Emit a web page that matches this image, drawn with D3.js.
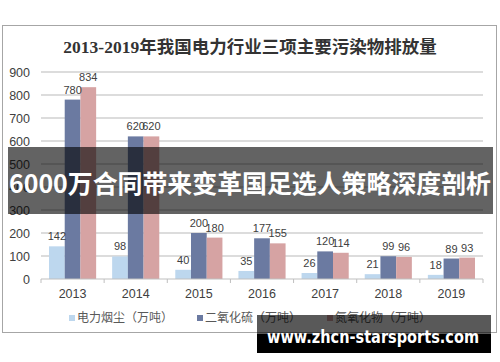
<!DOCTYPE html>
<html>
<head>
<meta charset="utf-8">
<script src="https://cdn.jsdelivr.net/npm/d3@7"></script>
<style>
  body { margin: 0; background: #fff; }
  svg { display: block; }
</style>
</head>
<body>
<div id="chart"></div>
<script>
var years = ["2013", "2014", "2015", "2016", "2017", "2018", "2019"];
var seriesNames = ["电力烟尘（万吨）", "二氧化硫（万吨）", "氮氧化物（万吨）"];
var dust = [142, 98, 40, 35, 26, 21, 18];
var so2 = [780, 620, 200, 177, 120, 99, 89];
var nox = [834, 620, 180, 155, 114, 96, 93];
var yTicks = [0, 100, 200, 300, 400, 500, 600, 700, 800, 900];
var colors = ["#bdd7ee", "#6b7aa1", "#d6a3a3"];

var title = "2013-2019年我国电力行业三项主要污染物排放量";
var banner = "6000万合同带来变革国足选人策略深度剖析";
var watermark = "www.zhcn-starsports.com";

var width = 500, height = 362;
var svg = d3.select("#chart")
  .append("svg")
  .attr("width", width)
  .attr("height", height);

// chart frame
svg.append("rect")
  .attr("x", 2.5).attr("y", 25.5)
  .attr("width", 494).attr("height", 307)
  .attr("fill", "#fff")
  .attr("stroke", "#a6a6a6");

svg.append("text")
  .attr("x", 250).attr("y", 53)
  .attr("text-anchor", "middle")
  .style("font-family", "'Liberation Serif', 'Noto Sans CJK SC', serif")
  .style("font-weight", "bold")
  .style("font-size", "17.5px")
  .attr("fill", "#333")
  .text(title);

// scales
var x = d3.scaleBand().domain(years).range([41, 483]);
var x1 = d3.scaleBand().domain([0, 1, 2]).range([8, x.bandwidth() - 8]);
var y = d3.scaleLinear().domain([0, 900]).range([279, 72]);

// gridlines + y labels
svg.append("g")
  .selectAll("line")
  .data(yTicks.slice(1))
  .enter()
  .append("line")
  .attr("x1", 41).attr("x2", 483)
  .attr("y1", function (d) { return y(d); })
  .attr("y2", function (d) { return y(d); })
  .attr("stroke", "#d0d0d0")
  .attr("stroke-width", 1.3);

svg.append("g")
  .selectAll("text")
  .data(yTicks)
  .enter()
  .append("text")
  .attr("x", 30)
  .attr("y", function (d) { return y(d) + 4.5; })
  .attr("text-anchor", "end")
  .style("font-family", "'Liberation Sans', Arial, sans-serif")
  .style("font-size", "12.5px")
  .attr("fill", "#404040")
  .text(function (d) { return d; });

// bars
var series = [dust, so2, nox];
var rows = [];
years.forEach(function (yr, i) {
  series.forEach(function (s, k) {
    rows.push({ year: yr, k: k, v: s[i] });
  });
});

svg.append("g")
  .selectAll("rect")
  .data(rows)
  .enter()
  .append("rect")
  .attr("x", function (d) { return x(d.year) + x1(d.k); })
  .attr("y", function (d) { return y(d.v); })
  .attr("width", x1.bandwidth())
  .attr("height", function (d) { return y(0) - y(d.v); })
  .attr("fill", function (d) { return colors[d.k]; });

// value labels
svg.append("g")
  .selectAll("text")
  .data(rows)
  .enter()
  .append("text")
  .attr("x", function (d) { return x(d.year) + x1(d.k) + x1.bandwidth() / 2; })
  .attr("y", function (d) { return y(d.v) - 6; })
  .attr("text-anchor", "middle")
  .style("font-family", "'Liberation Sans', Arial, sans-serif")
  .style("font-size", "11px")
  .attr("fill", "#404040")
  .text(function (d) { return d.v; });

// x axis
var xAxis = svg.append("g")
  .attr("transform", "translate(0," + y(0) + ")");
xAxis.append("line")
  .attr("x1", 41).attr("x2", 483)
  .attr("stroke", "#bfbfbf").attr("stroke-width", 1.2);
xAxis.selectAll("line.tk")
  .data(years.concat(["end"]))
  .enter()
  .append("line")
  .attr("class", "tk")
  .attr("x1", function (d) { return d == "end" ? 483 : x(d); })
  .attr("x2", function (d) { return d == "end" ? 483 : x(d); })
  .attr("y1", 0).attr("y2", 4)
  .attr("stroke", "#bfbfbf");
xAxis.selectAll("text")
  .data(years)
  .enter()
  .append("text")
  .attr("x", function (d) { return x(d) + x.bandwidth() / 2; })
  .attr("y", 18.5)
  .attr("text-anchor", "middle")
  .style("font-family", "'Liberation Sans', Arial, sans-serif")
  .style("font-size", "12.5px")
  .attr("fill", "#404040")
  .text(function (d) { return d; });

// legend
var legendX = [69, 197, 327];
var legend = svg.append("g")
  .selectAll("g")
  .data(seriesNames)
  .enter()
  .append("g")
  .attr("transform", function (d, i) { return "translate(" + legendX[i] + ",315)"; });
legend.append("rect")
  .attr("width", 6).attr("height", 6)
  .attr("fill", function (d, i) { return colors[i]; });
legend.append("text")
  .attr("x", 8).attr("y", 7)
  .style("font-family", "'Noto Sans CJK SC', sans-serif")
  .style("font-size", "12px")
  .attr("fill", "#595959")
  .text(function (d) { return d; });

// overlay banner
svg.append("rect")
  .attr("x", 8).attr("y", 147)
  .attr("width", 485).attr("height", 67)
  .attr("fill", "#000").attr("opacity", 0.61);
svg.append("text")
  .attr("x", 250).attr("y", 193)
  .attr("text-anchor", "middle")
  .attr("textLength", 482)
  .attr("lengthAdjust", "spacingAndGlyphs")
  .style("font-family", "'Noto Sans CJK SC', sans-serif")
  .style("font-weight", "bold")
  .style("font-size", "25px")
  .attr("fill", "#fff")
  .text(banner);

// watermark
svg.append("rect")
  .attr("x", 257).attr("y", 315)
  .attr("width", 234).attr("height", 38)
  .attr("fill", "#000").attr("opacity", 0.65);
svg.append("rect")
  .attr("x", 257).attr("y", 334)
  .attr("width", 234).attr("height", 19)
  .attr("fill", "#000");
svg.append("text")
  .attr("x", 373).attr("y", 343)
  .attr("text-anchor", "middle")
  .attr("textLength", 212)
  .attr("lengthAdjust", "spacingAndGlyphs")
  .style("font-family", "'DejaVu Sans', sans-serif")
  .style("font-weight", "bold")
  .style("font-size", "17px")
  .attr("fill", "#fff")
  .text(watermark);
</script>
</body>
</html>
